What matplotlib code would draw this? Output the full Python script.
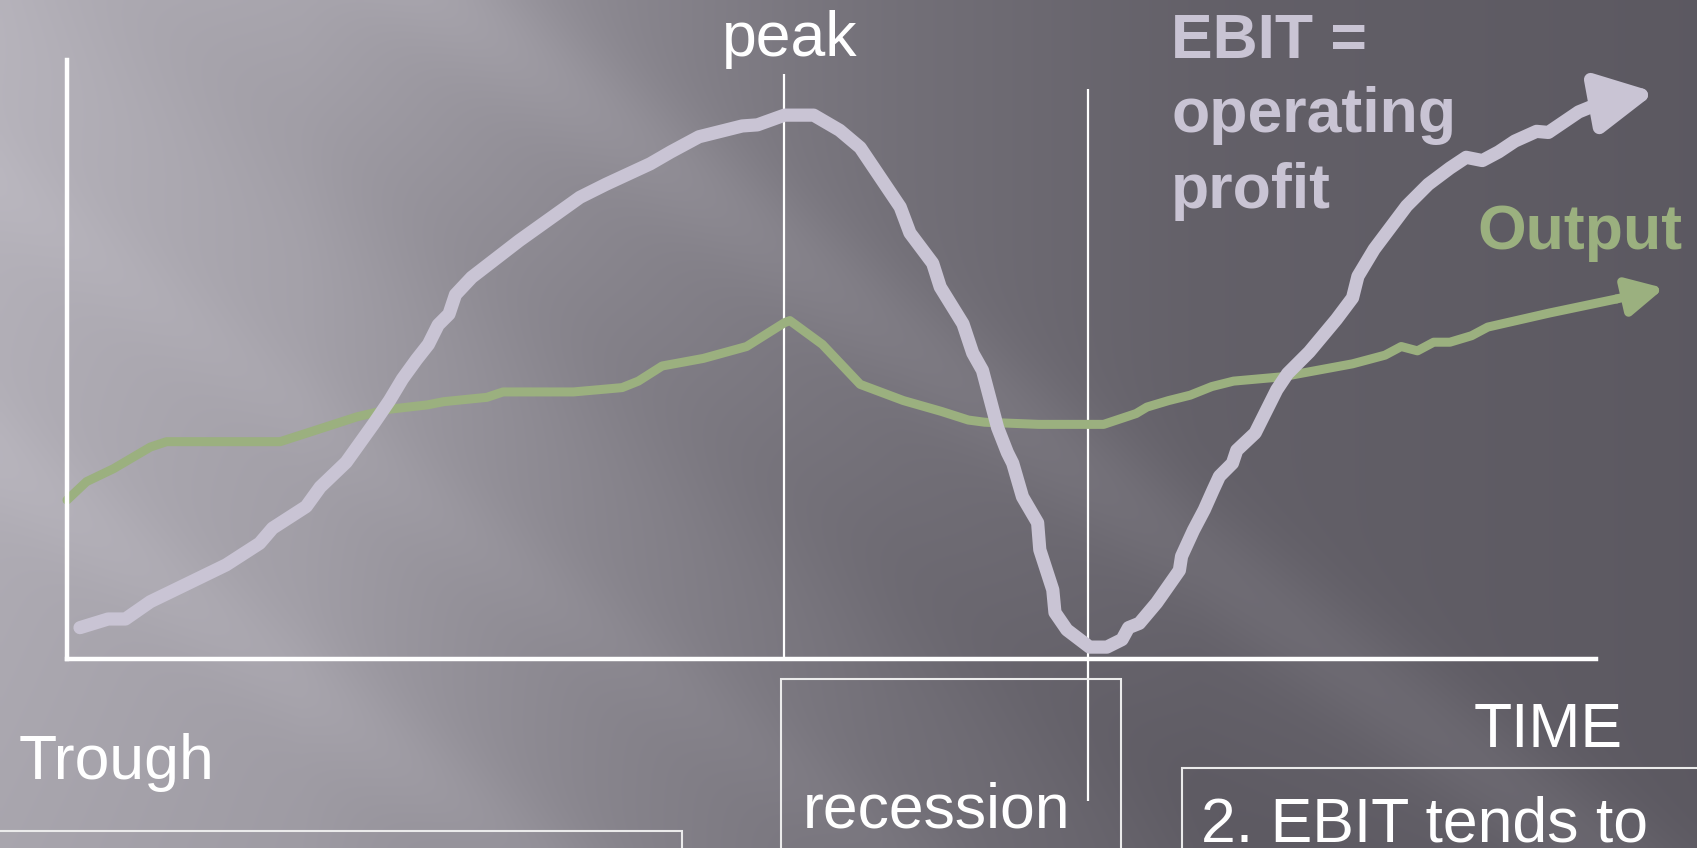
import numpy as np
import matplotlib
matplotlib.use("Agg")
import matplotlib.pyplot as plt
from matplotlib.patches import Rectangle

plt.rcParams['font.family'] = ['Liberation Sans', 'DejaVu Sans']

# time axis runs 0..1413, level axis 0..554 (same units the curves are read in)
ebit_t = [12, 38, 54, 77, 110, 147, 178, 190, 221, 234, 258, 283, 298, 310, 323, 334,
          343, 353, 359, 374, 418, 474, 498, 539, 558, 584, 624, 638, 663, 690, 714,
          733, 770, 779, 800, 807, 828, 837, 846, 860, 869, 874, 883, 897, 899, 911,
          913, 924, 945, 961, 975, 981, 991, 1007, 1028, 1030, 1041, 1051, 1059, 1065,
          1077, 1081, 1098, 1108, 1118, 1128, 1148, 1173, 1188, 1193, 1208, 1223, 1238,
          1258, 1278, 1293, 1308, 1323, 1338, 1358, 1369, 1397, 1419]
ebit_lvl = [29, 37, 37, 53, 69, 87, 107, 121, 141, 159, 182, 217, 239, 259, 277, 291,
            309, 319, 337, 353, 387, 427, 439, 458, 469, 483, 493, 494, 503, 503, 489,
            473, 418, 394, 366, 344, 310, 283, 267, 214, 191, 181, 150, 126, 101, 64,
            43, 27, 11, 11, 18, 29, 33, 52, 82, 95, 119, 138, 156, 169,
            181, 193, 209, 229, 249, 264, 284, 314, 334, 354, 379, 399, 419,
            439, 454, 464, 461, 469, 479, 488, 487, 506, 515]
ebit_tip = (1468, 524)

output_t = [0, 18, 43, 77, 92, 197, 228, 268, 298, 333, 348, 388, 403, 468, 513, 528,
            550, 588, 628, 663, 668, 698, 733, 773, 808, 833, 848, 898, 958, 988, 998,
            1018, 1038, 1058, 1078, 1123, 1188, 1218, 1233, 1248, 1263, 1278, 1298,
            1313, 1370, 1432]
output_lvl = [147, 164, 176, 196, 201, 201, 211, 224, 231, 235, 238, 242, 247, 247, 251,
              257, 271, 278, 289, 311, 313, 291, 254, 239, 229, 221, 219, 217, 217, 227,
              233, 239, 244, 252, 257, 261, 273, 281, 289, 285, 293, 293, 299, 307,
              320, 333]
output_tip = (1476, 343)

peak_t = 663
recession_t = 944

W, H = 1697, 848
fig = plt.figure(figsize=(W / 100, H / 100), dpi=100)

# grey slide background with soft diagonal streaks
yy, xx = np.mgrid[0:H:4, 0:W:4].astype(float)
g = np.interp(xx, [0, 300, 600, 900, 1200, 1697], [0.66, 0.62, 0.53, 0.45, 0.39, 0.36])
g += 0.06 * (1 - yy / H) * np.clip(1 - xx / 800, 0, 1)
d = xx - 1.35 * yy
for c, amp, w in [(450, 0.045, 90), (-620, 0.03, 80), (120, -0.02, 120), (-250, 0.02, 70)]:
    g += amp * np.exp(-((d - c) / w) ** 2)
bg = np.dstack([g, g - 0.012, g + 0.02]).clip(0, 1)
bax = fig.add_axes([0, 0, 1, 1])
bax.imshow(bg, extent=[0, W, H, 0], aspect='auto', interpolation='bilinear')
bax.set_xlim(0, W)
bax.set_ylim(H, 0)
bax.axis('off')

ax = fig.add_axes([67 / W, (H - 659) / H, (1596 - 67) / W, (659 - 60) / H])
ax.patch.set_alpha(0)
ax.set_xlim(0, 1413)
ax.set_ylim(0, 554)
ax.set_xticks([])
ax.set_yticks([])
for s in ['top', 'right']:
    ax.spines[s].set_visible(False)
for s in ['left', 'bottom']:
    ax.spines[s].set_color('white')
    ax.spines[s].set_linewidth(3.2)

ebit_col = '#c9c4d4'
out_col = '#9bb07f'

ax.vlines(peak_t, 0, 541, color='white', lw=1.6)
ax.vlines(recession_t, -131, 527, color='white', lw=1.6, clip_on=False)

ax.plot(output_t, output_lvl, color=out_col, lw=6.5, solid_capstyle='round',
        solid_joinstyle='round', clip_on=False)
ax.annotate('', xy=output_tip, xytext=(output_t[-1], output_lvl[-1]),
            arrowprops=dict(arrowstyle='-|>,head_length=0.87,head_width=0.45',
                            mutation_scale=25, color=out_col, lw=6.5,
                            shrinkA=0, shrinkB=0), annotation_clip=False)

ax.plot(ebit_t, ebit_lvl, color=ebit_col, lw=9.5, solid_capstyle='round',
        solid_joinstyle='round', clip_on=False)
ax.annotate('', xy=ebit_tip, xytext=(ebit_t[-1], ebit_lvl[-1]),
            arrowprops=dict(arrowstyle='-|>,head_length=0.85,head_width=0.44',
                            mutation_scale=40, color=ebit_col, lw=9.5,
                            shrinkA=0, shrinkB=0), annotation_clip=False)


def px(x, y):
    return x / W, 1 - y / H


# boxes running off the bottom of the slide
for x0, y0, x1 in [(-10, 831, 682), (781, 679, 1121), (1182, 768, 1720)]:
    fx, fy = px(x0, y0)
    fig.patches.append(Rectangle((fx, fy - 0.3), (x1 - x0) / W, 0.3,
                                 transform=fig.transFigure, fill=False,
                                 edgecolor='#ebebeb', lw=1.5))

fs = 45
fig.text(*px(790, 56), 'peak', color='white', fontsize=fs, ha='center', va='baseline')
for line, base in [('EBIT =', 58), ('operating', 132), ('profit', 208)]:
    fig.text(*px(1171, base), line, color=ebit_col, fontsize=fs, fontweight='bold',
             ha='left', va='baseline')
fig.text(*px(1477, 249), 'Output', color=out_col, fontsize=fs, fontweight='bold',
         ha='left', va='baseline')
fig.text(*px(1474, 747), 'TIME', color='white', fontsize=fs, ha='left', va='baseline')
fig.text(*px(19, 779), 'Trough', color='white', fontsize=fs, ha='left', va='baseline')
fig.text(*px(803, 828), 'recession', color='white', fontsize=fs, ha='left', va='baseline')
fig.text(*px(1201, 842), '2. EBIT tends to', color='white', fontsize=fs, ha='left',
         va='baseline')

fig.savefig('out.png', dpi=100)
